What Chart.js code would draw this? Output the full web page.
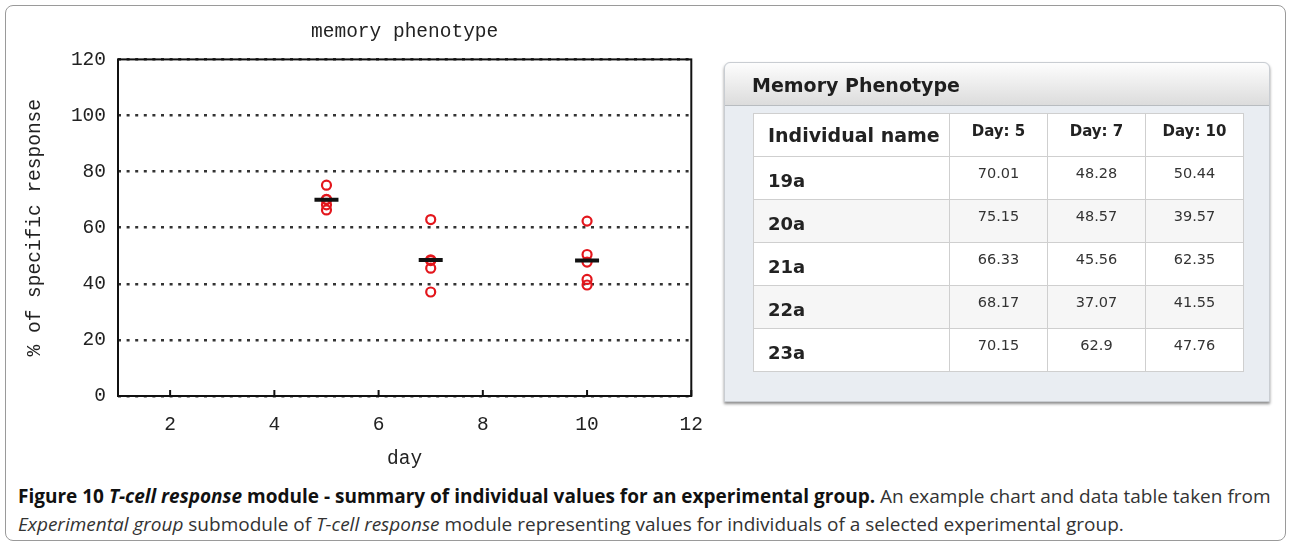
<!DOCTYPE html>
<html>
<head>
<meta charset="utf-8">
<script src="https://cdn.jsdelivr.net/npm/chart.js@4"></script>
<style>
  html, body { margin: 0; padding: 0; background: #fff; }
  body { width: 1292px; height: 548px; position: relative; overflow: hidden; }
  .frame {
    position: absolute; left: 5px; top: 5px; width: 1279px; height: 534px;
    border: 1px solid #9a9a9a; border-radius: 8px;
  }
  #chartBox { position: absolute; left: 0; top: 0; width: 720px; height: 480px; }
  .panel {
    position: absolute; left: 724px; top: 62px; width: 544px; height: 338px;
    background: #e9edf2; border: 1px solid #c9cdd2; border-radius: 6px 6px 0 0;
    box-shadow: 0 2px 3px rgba(0,0,0,0.45);
  }
  .panel .head {
    height: 42px; border-bottom: 1px solid #b8bcc0; border-radius: 6px 6px 0 0;
    background: linear-gradient(#fdfdfd, #dcdcdc);
    font-family: "DejaVu Sans", Verdana, sans-serif; font-weight: bold; font-size: 19px;
    color: #1e1e1e; line-height: 44px; padding-left: 27px;
  }
  table {
    position: absolute; left: 28px; top: 50px; border-collapse: collapse; table-layout: fixed;
    font-family: "DejaVu Sans", Verdana, sans-serif; color: #222;
  }
  td, th { border: 1px solid #cfcfcf; padding: 0; overflow: hidden; white-space: nowrap; box-sizing: border-box; }
  th { height: 43px; background: #fff; font-size: 15px; font-weight: bold; padding-bottom: 8px; }
  th.name { font-size: 19px; text-align: left; padding: 0 0 0 14px; width: 196px; }
  th.day { width: 98px; }
  td { height: 43px; font-size: 14.5px; text-align: center; color: #333; padding-bottom: 10px; }
  td.name { font-size: 18px; font-weight: bold; text-align: left; padding: 4px 0 0 14px; color: #222; }
  tr:nth-child(odd) td { background: #f6f6f6; }
  tr:nth-child(even) td { background: #fff; }
  .caption {
    position: absolute; left: 18px; top: 482px; width: 1262px;
    font-family: "Open Sans", sans-serif; font-size: 19px;
    line-height: 28px; color: #333; white-space: nowrap;
  }
  .caption b { color: #111; }
</style>
</head>
<body>
<div class="frame"></div>
<div id="chartBox"><canvas id="memChart"></canvas></div>

<div class="panel">
  <div class="head">Memory Phenotype</div>
  <table id="memTable"></table>
</div>

<div class="caption">
  <b>Figure 10 <i>T-cell response</i> module - summary of individual values for an experimental group.</b> An example chart and data table taken from<br>
  <i>Experimental group</i> submodule of <i>T-cell response</i> module representing values for individuals of a selected experimental group.
</div>

<script>
const days = [5, 7, 10];
const individuals = ['19a', '20a', '21a', '22a', '23a'];
const day5 = [70.01, 75.15, 66.33, 68.17, 70.15];
const day7 = [48.28, 48.57, 45.56, 37.07, 62.9];
const day10 = [50.44, 39.57, 62.35, 41.55, 47.76];
const groupMeans = [69.96, 48.48, 48.33];
const yTicks = [0, 20, 40, 60, 80, 100, 120];

const columns = [day5, day7, day10];

// table
const table = document.getElementById('memTable');
let html = '<tr><th class="name">Individual name</th>';
days.forEach(d => { html += '<th class="day">Day: ' + d + '</th>'; });
html += '</tr>';
individuals.forEach((name, i) => {
  html += '<tr><td class="name">' + name + '</td>';
  columns.forEach(col => { html += '<td>' + col[i] + '</td>'; });
  html += '</tr>';
});
table.innerHTML = html;

// chart points
const points = [];
columns.forEach((col, k) => {
  col.forEach(v => points.push({ x: days[k], y: v }));
});
const meanPoints = days.map((d, k) => ({ x: d, y: groupMeans[k] }));

const monoFont = { family: '"Liberation Mono", "DejaVu Sans Mono", monospace', size: 19.5 };

// frame around plot + inward ticks on the x axis
const plotFrame = {
  id: 'plotFrame',
  afterDraw(chart) {
    const { ctx, chartArea: a } = chart;
    const xs = chart.scales.x;
    ctx.save();
    ctx.strokeStyle = '#111';
    ctx.lineWidth = 2;
    ctx.strokeRect(a.left, a.top, a.right - a.left, a.bottom - a.top);
    ctx.beginPath();
    xs.ticks.forEach(t => {
      const px = xs.getPixelForValue(t.value);
      ctx.moveTo(px, a.bottom);
      ctx.lineTo(px, a.bottom - 6);
    });
    ctx.stroke();
    ctx.restore();
  }
};

new Chart(document.getElementById('memChart'), {
  type: 'scatter',
  data: {
    datasets: [
      {
        label: 'mean',
        data: meanPoints,
        pointStyle: 'line',
        pointRadius: 12,
        pointBorderWidth: 4,
        borderColor: '#111',
        backgroundColor: '#111'
      },
      {
        label: 'individuals',
        data: points,
        pointStyle: 'circle',
        pointRadius: 4.5,
        pointBorderWidth: 2.2,
        borderColor: '#e3161c',
        backgroundColor: 'rgba(0,0,0,0)'
      }
    ]
  },
  options: {
    responsive: true,
    maintainAspectRatio: false,
    animation: false,
    layout: { padding: { left: 20, right: 25, top: 0, bottom: 8 } },
    plugins: {
      legend: { display: false },
      tooltip: { enabled: false },
      title: {
        display: true,
        fullSize: false,
        text: 'memory phenotype',
        color: '#222',
        font: { ...monoFont, weight: 'normal' },
        padding: { top: 20, bottom: 16 }
      }
    },
    scales: {
      x: {
        type: 'linear',
        min: 1,
        max: 12,
        grid: { display: false, drawTicks: false },
        border: { display: false },
        ticks: { stepSize: 2, includeBounds: false, color: '#222', font: monoFont, padding: 17 },
        title: { display: true, text: 'day', color: '#222', font: monoFont, padding: { top: 0, bottom: 1 } },
        afterFit(scale) { scale.height = 76; }
      },
      y: {
        min: 0,
        max: 120,
        afterBuildTicks(scale) { scale.ticks = yTicks.map(v => ({ value: v })); },
        grid: {
          drawTicks: false,
          color: '#333',
          lineWidth: 2.5
        },
        border: { display: false, dash: [3, 5.6] },
        ticks: { color: '#222', font: monoFont, padding: 12 },
        title: { display: true, text: '% of specific response', color: '#222', font: monoFont, padding: { top: 3, bottom: 0 } },
        afterFit(scale) { scale.width = 98; }
      }
    }
  },
  plugins: [plotFrame]
});
</script>
</body>
</html>
